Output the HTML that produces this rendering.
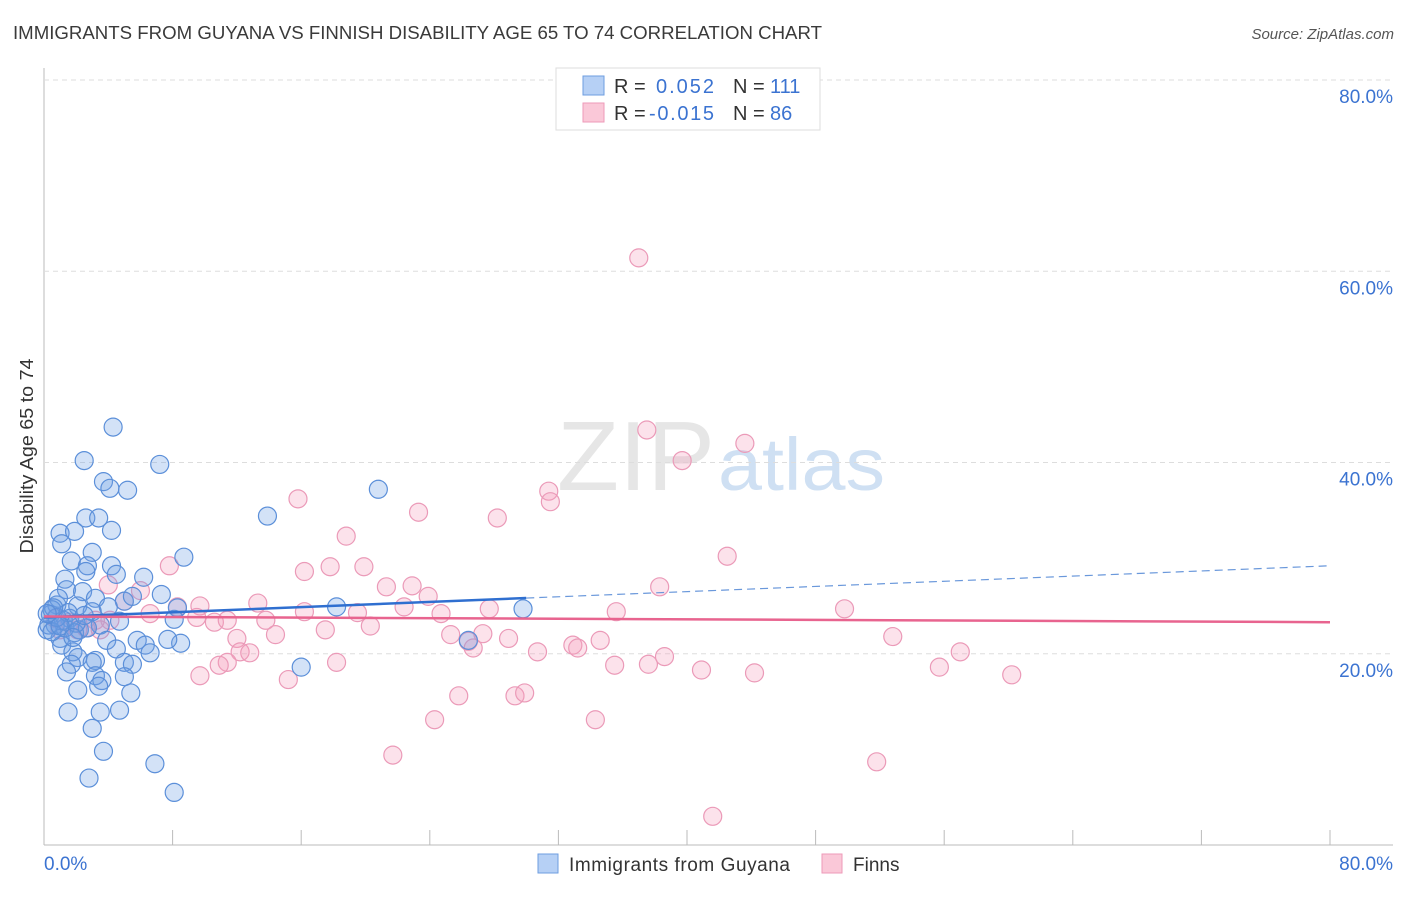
<!DOCTYPE html>
<html><head><meta charset="utf-8"><style>
body{margin:0;background:#fff;font-family:"Liberation Sans",sans-serif}
svg text{font-family:"Liberation Sans",sans-serif}
</style></head><body>
<svg id="chart" width="1406" height="892" viewBox="0 0 1406 892">
<text x="13" y="39" font-size="18" fill="#3a3a3a" textLength="809" lengthAdjust="spacingAndGlyphs">IMMIGRANTS FROM GUYANA VS FINNISH DISABILITY AGE 65 TO 74 CORRELATION CHART</text>
<text x="1394" y="39" font-size="15" fill="#555" text-anchor="end" font-style="italic">Source: ZipAtlas.com</text>
<text x="557" y="490" font-size="98" fill="#e6e6e6" font-family="Liberation Serif" textLength="158" lengthAdjust="spacingAndGlyphs">ZIP</text>
<text x="718" y="490" font-size="74" fill="#cfe0f3" textLength="167" lengthAdjust="spacingAndGlyphs">atlas</text>
<text transform="translate(33,456) rotate(-90)" font-size="18" fill="#333" text-anchor="middle" textLength="195" lengthAdjust="spacingAndGlyphs">Disability Age 65 to 74</text>
<g id="grid"></g><g id="marks"></g>
<g>
<rect x="556" y="68" width="264" height="62" fill="#fff" stroke="#ddd"/>
<rect x="583" y="76" width="21" height="19" fill="#b6d0f5" stroke="#6e9ee0"/>
<rect x="583" y="103" width="21" height="19" fill="#fac8d8" stroke="#ee9ab8"/>
<text x="614" y="93" font-size="20" fill="#333">R =</text><text x="656" y="93" font-size="20" fill="#3b73d1" textLength="58">0.052</text>
<text x="733" y="93" font-size="20" fill="#333">N =</text><text x="770" y="93" font-size="20" fill="#3b73d1">111</text>
<text x="614" y="120" font-size="20" fill="#333">R =</text><text x="649" y="120" font-size="20" fill="#3b73d1" textLength="65">-0.015</text>
<text x="733" y="120" font-size="20" fill="#333">N =</text><text x="770" y="120" font-size="20" fill="#3b73d1">86</text>
</g>
<g>
<rect x="538" y="854" width="20" height="19" fill="#b6d0f5" stroke="#6e9ee0"/>
<text x="569" y="871" font-size="19" fill="#333" textLength="221">Immigrants from Guyana</text>
<rect x="822" y="854" width="20" height="19" fill="#fac8d8" stroke="#ee9ab8"/>
<text x="853" y="871" font-size="19" fill="#333">Finns</text>
</g>
</svg>
<script>
const yTicks=[20,40,60,80];
const yTickLabels=["20.0%","40.0%","60.0%","80.0%"];
const xTicks=[0,8,16,24,32,40,48,56,64,72,80];
const blueX=[4.3,2.5,7.2,3.7,4.1,5.2,20.8,13.9,2.6,3.4,1.0,1.9,4.2,1.1,3.0,8.7,1.7,4.2,2.7,4.5,6.2,1.3,2.6,1.4,2.4,3.2,5.0,7.3,5.5,8.3,0.8,2.1,4.0,18.2,29.8,0.4,1.6,3.0,4.7,8.1,0.7,1.3,2.2,0.2,1.0,1.9,3.5,5.8,3.9,6.3,8.5,7.7,1.1,1.8,4.5,6.6,2.1,3.2,5.0,5.5,1.7,16.0,3.0,1.4,3.2,5.0,3.6,3.4,2.1,5.4,3.5,1.5,4.7,3.0,3.7,6.9,2.8,8.1,26.4,0.9,0.5,2.7,1.2,0.3,0.5,0.8,1.5,0.6,2.0,1.0,0.2,1.8,2.5];
const blueY=[43.7,40.2,39.8,38.0,37.3,37.1,37.2,34.4,34.2,34.2,32.6,32.8,32.9,31.5,30.6,30.1,29.7,29.2,29.2,28.3,28.0,27.8,28.6,26.7,26.5,25.8,25.5,26.2,26.0,24.8,25.1,25.0,24.9,24.9,24.7,24.1,23.7,24.4,23.4,23.6,23.0,22.7,22.5,22.5,21.6,22.2,23.0,21.4,21.4,20.9,21.1,21.5,20.9,20.2,20.5,20.1,19.6,19.3,19.1,18.9,18.9,18.6,19.1,18.1,17.7,17.6,17.2,16.6,16.2,15.9,13.9,13.9,14.1,12.2,9.8,8.5,7.0,5.5,21.4,25.8,24.6,22.7,23.5,23.0,22.3,23.8,24.3,24.8,23.2,22.9,24.2,21.7,24.0];
const pinkX=[37.0,37.5,43.6,39.7,31.4,31.5,15.8,23.3,28.2,18.8,42.5,7.8,16.2,17.8,19.9,38.3,21.3,22.9,4.0,6.0,23.9,13.3,9.7,16.2,19.5,22.4,27.7,49.8,35.6,8.3,9.5,10.6,13.8,6.6,5.0,3.2,2.6,2.1,17.5,20.3,25.3,27.3,28.9,12.0,14.4,52.8,34.6,32.9,33.2,26.4,26.7,12.2,12.8,18.2,30.7,35.5,37.6,38.6,40.9,44.2,55.7,57.0,60.2,9.7,11.4,10.9,15.2,25.8,29.3,29.9,24.3,34.3,21.7,51.8,41.6,24.7,4.1,1.6,0.7,1.0,11.4,3.5];
const pinkY=[61.4,43.4,42.0,40.2,37.0,35.9,36.2,34.8,34.2,32.3,30.2,29.2,28.6,29.1,29.1,27.0,27.0,27.1,27.2,26.6,26.0,25.3,25.0,24.4,24.3,24.9,24.7,24.7,24.4,24.9,23.8,23.3,23.5,24.2,25.5,23.5,22.7,22.5,22.5,22.9,22.0,22.1,21.6,21.6,22.0,21.8,21.4,20.9,20.6,21.3,20.6,20.2,20.1,19.1,20.2,18.8,18.9,19.7,18.3,18.0,18.6,20.2,17.8,17.7,19.1,18.8,17.3,15.6,15.6,15.9,13.1,13.1,9.4,8.7,3.0,24.2,23.5,23.3,23.7,22.5,23.5,22.5];
const blueTrend=[23.8,0.0675];
const pinkTrend=[23.9,-0.0075];
const NS='http://www.w3.org/2000/svg';
const X0=44,X1=1330,Y0=845,Y80=80;
const sx=v=>X0+(v/80)*(X1-X0);
const sy=v=>Y0-(v/80)*(Y0-Y80);
function mk(tag,attrs,parent){const e=document.createElementNS(NS,tag);for(const k in attrs)e.setAttribute(k,attrs[k]);parent.appendChild(e);return e;}
const grid=document.getElementById('grid');
mk('line',{x1:X0,y1:68,x2:X0,y2:Y0,stroke:'#bbb'},grid);
mk('line',{x1:X0,y1:Y0,x2:1393,y2:Y0,stroke:'#bbb'},grid);
yTicks.forEach((t,i)=>{
 const l=mk('line',{x1:X0,y1:sy(t),x2:1393,y2:sy(t),stroke:'#ddd','stroke-dasharray':'5,4'},grid);
 
 
 const tx=mk('text',{x:1393,y:sy(t)+23,'font-size':19,fill:'#3b73d1','text-anchor':'end'},grid);
 tx.textContent=yTickLabels[i];
 
 
});
xTicks.forEach(t=>{
 const l=mk('line',{x1:sx(t),y1:Y0-15,x2:sx(t),y2:Y0,stroke:'#bbb'},grid);
 
 
});
const xl=mk('text',{x:44,y:870,'font-size':19,fill:'#3b73d1'},grid);xl.textContent='0.0%';


const xr=mk('text',{x:1393,y:870,'font-size':19,fill:'#3b73d1','text-anchor':'end'},grid);xr.textContent='80.0%';


const marks=document.getElementById('marks');
pinkX.forEach((x,i)=>{
 const c=mk('circle',{cx:sx(x),cy:sy(pinkY[i]),r:9,fill:'rgba(244,160,190,0.3)',stroke:'#eb9ab8','stroke-width':1.2},marks);
 
 
});
blueX.forEach((x,i)=>{
 const c=mk('circle',{cx:sx(x),cy:sy(blueY[i]),r:9,fill:'rgba(110,160,230,0.3)',stroke:'#5b8fd9','stroke-width':1.2},marks);
 
 
});
const bt=v=>blueTrend[0]+blueTrend[1]*v, pt=v=>pinkTrend[0]+pinkTrend[1]*v;
const l1=mk('line',{x1:sx(0),y1:sy(bt(0)),x2:sx(30),y2:sy(bt(30)),stroke:'#2f6fd0','stroke-width':2.5},marks);


const l2=mk('line',{x1:sx(30),y1:sy(bt(30)),x2:sx(80),y2:sy(bt(80)),stroke:'#6a98db','stroke-width':1.2,'stroke-dasharray':'8,5'},marks);


const l3=mk('line',{x1:sx(0),y1:sy(pt(0)),x2:sx(80),y2:sy(pt(80)),stroke:'#e8648f','stroke-width':2.5},marks);


</script>
</body></html>
